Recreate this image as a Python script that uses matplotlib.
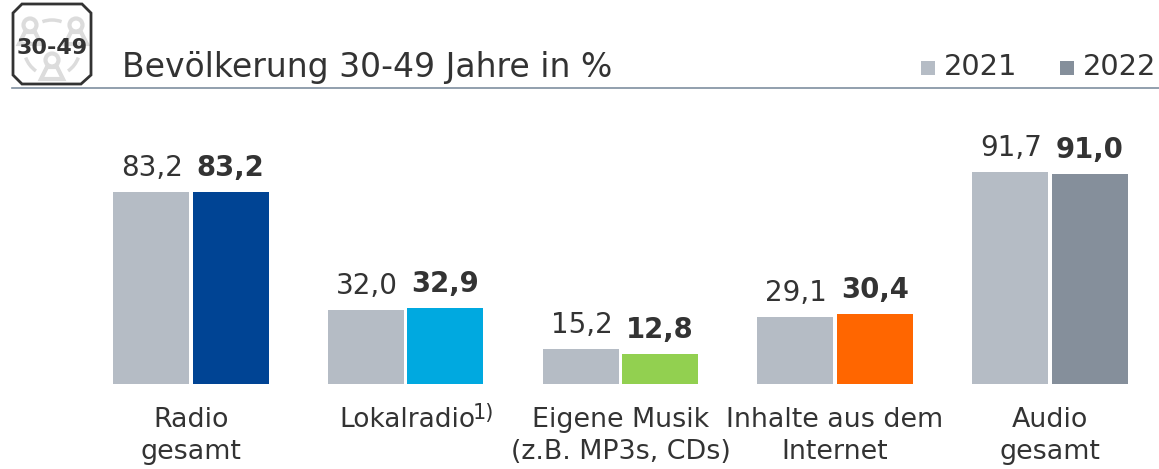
import matplotlib
matplotlib.use("Agg")
import matplotlib.pyplot as plt
from matplotlib.patches import Polygon, Circle, Arc, Rectangle

W, H = 1159, 469

# --- data ---
categories = ["Radio\ngesamt", "Lokalradio", "Eigene Musik\n(z.B. MP3s, CDs)", "Inhalte aus dem\nInternet", "Audio\ngesamt"]
values_2021 = [83.2, 32.0, 15.2, 29.1, 91.7]
values_2022 = [83.2, 32.9, 12.8, 30.4, 91.0]
colors_2022 = ["#004494", "#00a9e0", "#92d050", "#ff6600", "#858f9b"]
color_2021 = "#b5bcc5"
text_color = "#333333"
title = "Bevölkerung 30-49 Jahre in %"
years = ["2021", "2022"]

def de(v):
    return f"{v:.1f}".replace(".", ",")

fig = plt.figure(figsize=(W / 100, H / 100), dpi=100)

# chart area: whole width, baseline at y=384 px
step = 214.7
ax = fig.add_axes([0, (H - 384) / H, 1, 284 / H])
ax.set_xlim(-191 / step, (W - 191) / step)
ax.set_ylim(0, 284 / 2.308)
ax.axis("off")

xs = list(range(len(categories)))
bw = 76 / step
off = 39.7 / step
for x, a, b, c in zip(xs, values_2021, values_2022, colors_2022):
    ax.bar(x - off, a, bw, color=color_2021)
    ax.bar(x + off, b, bw, color=c)
    ax.annotate(de(a), (x - off, a), xytext=(1, 10), textcoords="offset pixels",
                ha="center", va="bottom", fontsize=20, color=text_color)
    ax.annotate(de(b), (x + off, b), xytext=(0, 10), textcoords="offset pixels",
                ha="center", va="bottom", fontsize=19.8, fontweight="bold", color=text_color)

# overlay in pixel coordinates for labels, header and icon
ov = fig.add_axes([0, 0, 1, 1], facecolor="none")
ov.set_xlim(0, W)
ov.set_ylim(H, 0)
ov.axis("off")

label_x = [191, 406, 621, 835, 1050]
for lx, lab in zip(label_x, categories):
    if "\n" in lab:
        first, second = lab.split("\n")
        ov.text(lx, 420, first, ha="center", va="center", fontsize=19.4, color=text_color)
        ov.text(lx, 452, second, ha="center", va="center", fontsize=19.4, color=text_color)
    else:
        ov.text(339, 420, lab, ha="left", va="center", fontsize=19, color=text_color)
        ov.text(473, 413, "1)", ha="left", va="center", fontsize=15, color=text_color)

# header
ov.text(122, 67, title, ha="left", va="center", fontsize=23.8, color=text_color)
ov.plot([12, W], [88, 88], color="#7f8fa0", lw=1.2)
ov.add_patch(Rectangle((921, 61), 14, 14, color=color_2021, lw=0))
ov.text(944, 67, years[0], ha="left", va="center", fontsize=20.8, color=text_color)
ov.add_patch(Rectangle((1060, 61), 14, 14, color=colors_2022[4], lw=0))
ov.text(1083, 67, years[1], ha="left", va="center", fontsize=20.8, color=text_color)

# icon: three people on a ring
grey = "#dcdcdc"
for t1, t2 in [(250, 290), (125, 160), (20, 55)]:
    ov.add_patch(Arc((52, 48), 56, 56, theta1=t1, theta2=t2, color=grey, lw=2.5))
for cx, cy in [(30, 25), (76, 25), (52, 60)]:
    ov.add_patch(Circle((cx, cy), 6.5, fc="white", ec=grey, lw=3))
    ov.add_patch(Polygon([(cx - 11, cy + 19), (cx - 5, cy + 7), (cx + 5, cy + 7), (cx + 11, cy + 19)],
                         fc="white", ec=grey, lw=3))
ov.add_patch(Polygon([(22, 4), (82, 4), (91, 13), (91, 75), (81, 84), (22, 84), (13, 75), (13, 13)],
                     closed=True, fc="none", ec="#333333", lw=2))
ov.text(52, 48, "30-49", ha="center", va="center", fontsize=16, fontweight="bold", color=text_color)

fig.savefig("out.png", dpi=100)
